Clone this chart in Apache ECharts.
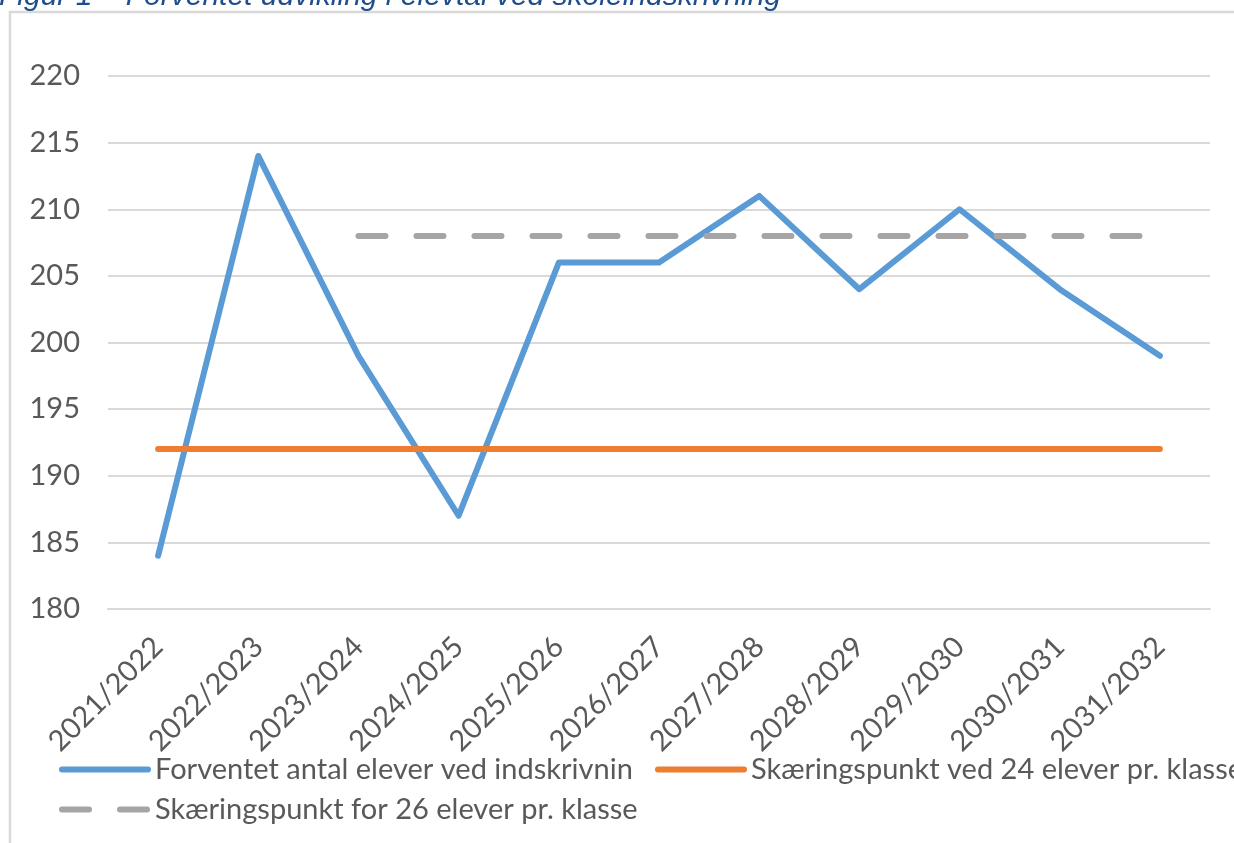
<!DOCTYPE html>
<html>
<head>
<meta charset="utf-8">
<script src="https://cdn.jsdelivr.net/npm/echarts@6/dist/echarts.min.js"></script>
<style>
html,body{margin:0;padding:0;background:#fff;}
#chart{width:1234px;height:843px;}
</style>
</head>
<body>
<div id="chart"></div>
<script>
const titleText = 'Figur 1 – Forventet udvikling i elevtal ved skoleindskrivning';
const categories = ['2021/2022','2022/2023','2023/2024','2024/2025','2025/2026','2026/2027','2027/2028','2028/2029','2029/2030','2030/2031','2031/2032'];
const seriesNames = ['Forventet antal elever ved indskrivnin','Skæringspunkt ved 24 elever pr. klasse','Skæringspunkt for 26 elever pr. klasse'];
const expectedPupils = [184, 214, 199, 187, 206, 206, 211, 204, 210, 204, 199];
const cut24 = [192, 192, 192, 192, 192, 192, 192, 192, 192, 192, 192];
const cut26 = [null, null, 208, 208, 208, 208, 208, 208, 208, 208, 208];
const yMin = 180, yMax = 220, yStep = 5;

const FONT = 'Lato';
const TXT = '#595959';
const BLUE = '#5B9BD5', ORANGE = '#ED7D31', GRAY = '#A5A5A5';
const LW = 6;
const DASH = [27, 31];

const chart = echarts.init(document.getElementById('chart'));
const legendBase = {
  orient: 'horizontal',
  itemWidth: 86,
  itemHeight: 14,
  itemGap: 20,
  itemStyle: {opacity: 0},
  lineStyle: {width: LW, cap: 'round'},
  textStyle: {color: TXT, fontFamily: FONT, fontSize: 29, padding: [0,0,0,2]},
  padding: 0
};
chart.setOption({
  animation: false,
  backgroundColor: '#fff',
  graphic: [
    {type: 'rect', shape: {x: 10, y: 12, width: 1300, height: 900}, style: {fill: 'none', stroke: '#d9d9d9', lineWidth: 2.5}, silent: true},
    {type: 'text', left: -1, top: -18, style: {text: titleText, fill: '#1F4E8C', font: 'italic 30px "Liberation Sans"'}, silent: true}
  ],
  grid: {left: 108, right: 24, top: 76, bottom: 234, containLabel: false},
  legend: [
    Object.assign({}, legendBase, {left: 59, top: 755, data: [{name: seriesNames[0]}]}),
    Object.assign({}, legendBase, {left: 655, top: 755, data: [{name: seriesNames[1]}]}),
    Object.assign({}, legendBase, {left: 59, top: 795, data: [{name: seriesNames[2]}]})
  ],
  xAxis: {
    type: 'category',
    data: categories,
    boundaryGap: true,
    axisLine: {show: true, lineStyle: {color: '#d9d9d9', width: 2}},
    axisTick: {show: false},
    axisLabel: {rotate: 45, margin: 33, color: TXT, fontFamily: FONT, fontSize: 29, interval: 0}
  },
  yAxis: {
    type: 'value',
    min: yMin, max: yMax, interval: yStep,
    axisLine: {show: false},
    axisTick: {show: false},
    axisLabel: {margin: 28, color: TXT, fontFamily: FONT, fontSize: 29},
    splitLine: {lineStyle: {color: '#d9d9d9', width: 2}}
  },
  series: [
    {name: seriesNames[0], type: 'line', data: expectedPupils, symbol: 'none', z: 2,
     lineStyle: {color: BLUE, width: LW, cap: 'round', join: 'round'}, itemStyle: {color: BLUE}},
    {name: seriesNames[1], type: 'line', data: cut24, symbol: 'none', z: 3,
     lineStyle: {color: ORANGE, width: LW, cap: 'round', join: 'round'}, itemStyle: {color: ORANGE}},
    {name: seriesNames[2], type: 'line', data: cut26, symbol: 'none', z: 4,
     lineStyle: {color: GRAY, width: LW, type: DASH, cap: 'round', join: 'round'}, itemStyle: {color: GRAY}}
  ]
});
</script>
</body>
</html>
